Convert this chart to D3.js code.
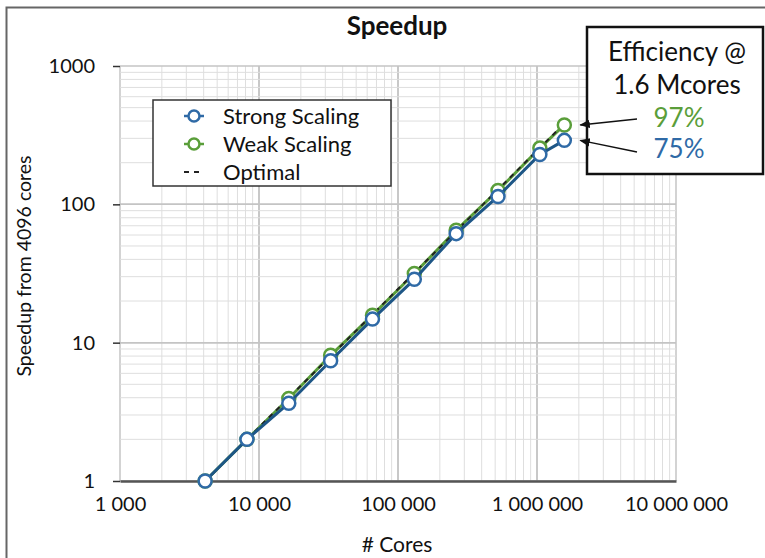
<!DOCTYPE html>
<html>
<head>
<meta charset="utf-8">
<script src="https://cdn.jsdelivr.net/npm/d3@7"></script>
<style>
  body { margin: 0; background: #fff; }
  text { font-family: Lato, "Open Sans", sans-serif; fill: #111; }
</style>
</head>
<body>
<div id="chart"></div>
<script>
// data
const cores = [4096, 8192, 16384, 32768, 65536, 131072, 262144, 524288, 1048576, 1572864];
const strongScaling = [1, 2, 3.65, 7.4, 14.8, 28.7, 61.4, 114, 229, 290];
const weakScaling = [1, 2, 3.95, 8.1, 15.8, 31.6, 65, 126, 255, 375];
const optimal = [1, 2, 4, 8, 16, 32, 64, 128, 256, 384];
const xTicks = [1000, 10000, 100000, 1000000, 10000000];
const yTicks = [1, 10, 100, 1000];
const efficiencies = [{ label: "97%", series: "weak" }, { label: "75%", series: "strong" }];

const width = 765;
const height = 558;
const blue = "#2f6aa6";
const blueLine = "#1d5686";
const green = "#5a9e3a";

const svg = d3.select("#chart").append("svg")
	.attr("width", width)
	.attr("height", height);

svg.append("defs").append("marker")
	.attr("id", "arrow")
	.attr("viewBox", "0 0 10 10")
	.attr("refX", 9).attr("refY", 5)
	.attr("markerWidth", 7).attr("markerHeight", 7)
	.attr("orient", "auto")
	.append("path").attr("d", "M0,1 L10,5 L0,9 Z").attr("fill", "#111");

// outer frame (left and top edges visible)
svg.append("path")
	.attr("d", "M6.5,560 L6.5,7.5 L770,7.5")
	.attr("fill", "none").attr("stroke", "#666").attr("stroke-width", 2);

// scales
const x = d3.scaleLog().domain([1000, 10000000]).range([120, 676]);
const y = d3.scaleLog().domain([1, 1000]).range([481, 66]);

// grid lines
const minorX = [];
for (let d = 1000; d < 10000000; d *= 10) for (let k = 1; k <= 10; k++) minorX.push(d * k);
const minorY = [];
for (let d = 1; d < 1000; d *= 10) for (let k = 1; k <= 10; k++) minorY.push(d * k);

const grid = svg.append("g");
grid.selectAll(".gx").data(minorX).enter().append("line")
	.attr("x1", (d) => x(d)).attr("x2", (d) => x(d))
	.attr("y1", y(1)).attr("y2", y(1000))
	.attr("stroke", (d) => xTicks.includes(d) ? "#c4c4c4" : "#dedede")
	.attr("stroke-width", (d) => xTicks.includes(d) ? 1.5 : 1);
grid.selectAll(".gy").data(minorY).enter().append("line")
	.attr("x1", x(1000)).attr("x2", x(10000000))
	.attr("y1", (d) => y(d)).attr("y2", (d) => y(d))
	.attr("stroke", (d) => yTicks.includes(d) ? "#c4c4c4" : "#dedede")
	.attr("stroke-width", (d) => yTicks.includes(d) ? 1.5 : 1);

// axes
const locale = d3.formatLocale({ decimal: ".", thousands: " ", grouping: [3], currency: ["", ""] });
const xAxis = svg.append("g")
	.attr("transform", "translate(0," + y(1) + ")")
	.call(d3.axisBottom(x).tickValues(xTicks).tickSize(0).tickPadding(16).tickFormat(locale.format(",d")));
xAxis.select(".domain").attr("stroke", "#555").attr("stroke-width", 2.5);
xAxis.selectAll("text").style("font-size", "20px").attr("fill", "#111");

const yAxis = svg.append("g")
	.attr("transform", "translate(" + x(1000) + ",0)")
	.call(d3.axisLeft(y).tickValues(yTicks).tickSize(7).tickPadding(18).tickFormat(d3.format("d")));
yAxis.select(".domain").remove();
yAxis.selectAll("line").attr("stroke", "#333").attr("stroke-width", 1.5);
yAxis.selectAll("text").style("font-size", "20px").attr("fill", "#111");

// series
const line = d3.line().x((d) => x(d[0])).y((d) => y(d[1]));
const weakPts = d3.zip(cores, weakScaling);
const strongPts = d3.zip(cores, strongScaling);
const optPts = d3.zip(cores, optimal);

svg.append("path").datum(weakPts).attr("d", line)
	.attr("fill", "none").attr("stroke", green).attr("stroke-width", 3);
svg.append("path").datum(optPts).attr("d", line)
	.attr("fill", "none").attr("stroke", "#222").attr("stroke-width", 2).attr("stroke-dasharray", "5,5");
svg.selectAll(".wk").data(weakPts).enter().append("circle")
	.attr("cx", (d) => x(d[0])).attr("cy", (d) => y(d[1])).attr("r", 6.5)
	.attr("fill", "#fff").attr("stroke", green).attr("stroke-width", 2.5);
svg.append("path").datum(strongPts).attr("d", line)
	.attr("fill", "none").attr("stroke", blueLine).attr("stroke-width", 3);
svg.selectAll(".st").data(strongPts).enter().append("circle")
	.attr("cx", (d) => x(d[0])).attr("cy", (d) => y(d[1])).attr("r", 6.5)
	.attr("fill", "#fff").attr("stroke", blue).attr("stroke-width", 2.5);

// title and axis labels
svg.append("text").attr("x", 397).attr("y", 35).attr("text-anchor", "middle")
	.style("font-size", "26px").style("font-weight", "bold").text("Speedup");
svg.append("text").attr("x", 397).attr("y", 552).attr("text-anchor", "middle")
	.style("font-size", "21px").text("# Cores");
svg.append("text").attr("transform", "translate(31,266) rotate(-90)").attr("text-anchor", "middle")
	.style("font-size", "19.5px").text("Speedup from 4096 cores");

// legend
const legend = svg.append("g");
legend.append("rect").attr("x", 153).attr("y", 100).attr("width", 238).attr("height", 86)
	.attr("fill", "#fff").attr("stroke", "#333").attr("stroke-width", 1.5);
const legendItems = [
	{ name: "Strong Scaling", color: blue, marker: true },
	{ name: "Weak Scaling", color: green, marker: true },
	{ name: "Optimal", color: "#222", marker: false }
];
legendItems.forEach((item, i) => {
	const ly = 116 + i * 28;
	if (item.marker) {
		legend.append("line").attr("x1", 184).attr("x2", 204).attr("y1", ly).attr("y2", ly)
			.attr("stroke", item.color).attr("stroke-width", 2.5);
		legend.append("circle").attr("cx", 194).attr("cy", ly).attr("r", 5.5)
			.attr("fill", "#fff").attr("stroke", item.color).attr("stroke-width", 2.5);
	} else {
		legend.append("line").attr("x1", 184).attr("x2", 204).attr("y1", ly).attr("y2", ly)
			.attr("stroke", item.color).attr("stroke-width", 2).attr("stroke-dasharray", "5,5");
	}
	legend.append("text").attr("x", 223).attr("y", ly + 8).style("font-size", "22px").text(item.name);
});

// efficiency annotation
const note = svg.append("g");
note.append("rect").attr("x", 587).attr("y", 27).attr("width", 176).attr("height", 147)
	.attr("fill", "#fff").attr("stroke", "#111").attr("stroke-width", 2.5);
note.append("text").attr("x", 677).attr("y", 61).attr("text-anchor", "middle")
	.style("font-size", "26px").text("Efficiency @");
note.append("text").attr("x", 677).attr("y", 94).attr("text-anchor", "middle")
	.style("font-size", "26px").text("1.6 Mcores");
efficiencies.forEach((e, i) => {
	const ty = 127 + i * 31;
	const color = e.series === "weak" ? green : blue;
	const target = e.series === "weak" ? weakScaling : strongScaling;
	note.append("text").attr("x", 679).attr("y", ty).attr("text-anchor", "middle")
		.style("font-size", "26px").attr("fill", color).style("fill", color).text(e.label);
	svg.append("line")
		.attr("x1", 637).attr("y1", ty - 8 + i * 2)
		.attr("x2", x(cores[cores.length - 1]) + 16).attr("y2", y(target[target.length - 1]))
		.attr("stroke", "#111").attr("stroke-width", 1.5).attr("marker-end", "url(#arrow)");
});
</script>
</body>
</html>
